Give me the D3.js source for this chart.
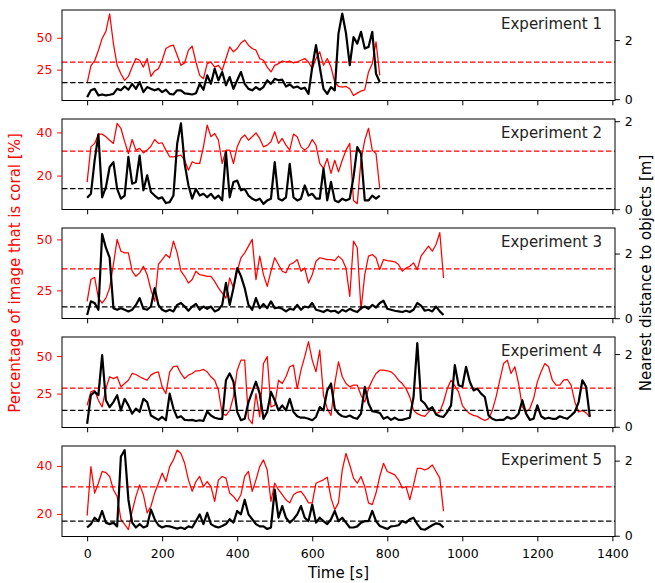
<!DOCTYPE html>
<html>
<head>
<meta charset="utf-8">
<script src="https://cdn.jsdelivr.net/npm/d3@7"></script>
<style>
  body { margin: 0; background: #fff; }
</style>
</head>
<body>
<div class="canvas"></div>
<script>
// sampling step of every series, seconds
const dt = 10;

const expNames = ['Experiment 1', 'Experiment 2', 'Experiment 3', 'Experiment 4', 'Experiment 5'];

// percentage of image that is coral [%]
const coral1 = [14.5,28,32,40,49.5,55,68.7,45.5,28.4,21.8,
  16.6,19.7,27,33.7,32.4,27,33.7,19.7,24,25.8,
  32.4,41.6,43.4,44.2,36.3,28.4,30.3,40.3,43.4,31,
  20.5,17.9,29.7,31,27,28.4,24.5,33.7,42.9,39,
  41.6,46,48.2,44.2,41.6,40.3,33.7,32.4,27,23.2,
  28.4,29.7,31.8,31,31.8,30.3,31,32.4,33.7,31,
  25.8,33.7,39,28.4,33.7,27,15.3,11.8,11.3,11.8,
  10,4.7,6.6,8.2,9.2,23.2,29.7,46.8,20.5];
const coral2 = [17,33.3,34.9,39.2,39.2,38,36.4,34.9,44.2,41.9,
  35.7,30.2,36.7,31.8,32.6,30.5,31.8,33.6,36.7,34.9,
  35.2,31.8,28.7,28.7,29,29.5,27.1,22.5,26.4,25.6,
  25.6,33.3,43.4,38,39.5,36.4,25.6,31.8,31.8,25.6,
  33.3,37.2,38.8,36.4,38,39.8,37.2,33.3,34.1,35.7,
  40.3,34.9,37.2,34.1,31.8,39.2,38,33.3,31.8,33.3,
  36.7,34.1,25.6,23.3,27.9,21,27.1,21.7,27.1,31.8,
  34.9,8.5,7,27.1,36.4,41.9,31.8,30.2,14];
const coral3 = [19.6,30.3,31.4,21.2,18.8,21.2,26.2,37.7,50,44.2,
  43.4,43.4,34.4,31.9,33.6,36.8,32.7,25.3,19.6,37.7,
  40.1,42.6,41,49.2,43.4,34.4,31.9,28.6,30.3,34.4,
  32.7,32.4,31.9,31.9,29.4,26.2,23.7,21.2,31.1,26.2,
  34.4,41,43.4,46.7,50,30.3,41.8,32.7,27,34.4,
  41,37.7,34.4,33.6,37.7,38.5,40.1,34.4,36,28.6,
  32.7,39.3,41,40.6,40.1,40.1,39.6,41.8,40.1,36,
  22,49.2,45.9,15.5,32.7,41.8,42.6,41,35.2,40.1,
  39.6,39.3,39,37.7,34.4,36,36.8,38.5,35.2,41.8,
  44.2,46.7,44.2,47.5,53.3,31.1];
const coral4 = [17.2,26.1,27.2,20.5,16.1,28.3,36.2,35,36.2,29.5,
  31.7,33.9,38.4,37.7,36.2,35,33.9,37.3,38.8,39.5,
  29.5,25,39.5,42.9,43.3,38.4,35,37.3,38.4,40.2,
  40.2,41.1,39.5,36.2,33.9,27.2,11.6,10.5,13.8,22.8,
  40.6,47.3,47.3,8.3,4.9,25,9.4,45,49.6,16.1,
  17.2,33.9,31.7,36.2,42.9,44,28.3,40.6,49.6,59.6,
  47.3,39.5,54,23.9,15,10.5,31.7,46.2,36.2,31.7,
  29.5,30.6,30.6,23.9,19.4,28.3,33.9,38.4,40.6,40.6,
  40.2,39.5,37.3,33.9,31.7,28.3,22.8,13.8,11.6,10.5,
  9.8,12.7,15.6,11.6,12.7,19.4,28.3,33.9,30.1,26.1,
  17.2,13.8,11.6,10.5,9.8,8.3,7.1,8.3,13.8,22.8,
  33.9,45,47.3,38.4,42.9,31.7,16.1,12.7,15,21.7,
  32.8,39.5,45,42.9,33.9,30.6,30.6,33.9,34.4,30.6,
  19.4,12.7,13.8,12.1,9.4];
const coral5 = [19.3,39.7,28.7,32.8,37.7,37.2,35.6,30.1,27.3,17.7,
  15.6,13.5,21.1,27.3,32.1,28,20.4,23.2,28.7,32.8,
  37,33.5,39.7,42.5,46.6,45.2,41.1,34.2,29.4,33.5,
  35.6,31.4,33.5,31.4,25.2,34.2,35.6,34.9,28.7,27.3,
  25.2,28,35.6,37.7,29.4,34.2,39.7,42.5,38.3,25.2,
  32.8,30.1,28,25.9,24.6,28,29,29.4,27.3,24.6,
  24.6,32.8,33.5,34.2,35.3,26.6,21.8,24.6,38.3,45.2,
  40.4,34.9,32.8,35.6,31.4,24.6,23.9,28.7,35.6,41.1,
  37.7,37,36.3,34.2,30.8,31.4,25.9,32.1,39,39,
  38.3,39,40.4,37.7,34.9,21.1];

// nearest distance to objects [m]
const dist1 = [0.07,0.30,0.35,0.13,0.16,0.13,0.15,0.18,0.35,0.30,
  0.43,0.32,0.52,0.35,0.58,0.24,0.41,0.35,0.30,0.35,
  0.24,0.32,0.18,0.16,0.30,0.30,0.20,0.18,0.16,0.20,
  0.52,0.32,0.81,0.52,1.03,0.64,0.92,0.47,0.75,0.35,
  0.64,0.92,0.52,0.35,0.30,0.41,0.32,0.41,0.64,0.52,
  0.69,0.64,0.66,0.43,0.50,0.39,0.43,0.35,0.39,0.18,
  1.09,1.83,1.09,0.35,0.18,0.41,0.30,2.23,2.9,2.23,
  1.15,2.1,1.88,2.28,1.72,1.77,2.28,0.86,0.58];
const dist2 = [0.26,0.35,1.11,1.7,0.27,0.50,0.96,1.07,0.46,0.24,
  0.31,1.19,0.58,0.62,1.22,0.43,0.77,0.39,0.31,0.24,
  0.27,0.14,0.16,0.31,1.49,1.95,1.03,0.54,0.24,0.46,
  0.31,0.35,0.27,0.35,0.24,0.31,0.20,1.30,0.27,0.62,
  0.65,0.43,0.46,0.31,0.24,0.20,0.24,0.12,0.20,0.24,
  1.07,0.24,0.20,0.27,1.03,0.27,0.20,0.24,0.54,0.31,
  0.35,0.24,0.24,0.92,0.20,0.62,0.20,0.16,0.24,0.20,
  0.24,0.73,1.41,1.26,0.20,0.20,0.31,0.24,0.31];
const dist3 = [0.10,0.52,0.47,0.26,2.6,2.18,1.87,0.31,0.26,0.31,
  0.26,0.21,0.26,0.41,0.62,0.29,0.26,0.36,0.93,0.41,
  0.26,0.21,0.26,0.21,0.41,0.47,0.36,0.23,0.36,0.44,
  0.26,0.36,0.29,0.36,0.21,0.26,0.41,1.09,0.41,0.93,
  1.55,1.30,0.93,0.41,0.26,0.62,0.31,0.44,0.31,0.52,
  0.31,0.33,0.29,0.21,0.29,0.26,0.41,0.26,0.36,0.33,
  0.47,0.26,0.23,0.19,0.26,0.21,0.23,0.16,0.26,0.21,
  0.29,0.23,0.19,0.31,0.36,0.29,0.41,0.33,0.47,0.54,
  0.29,0.26,0.23,0.21,0.19,0.23,0.19,0.26,0.47,0.39,
  0.23,0.26,0.21,0.36,0.21,0.10];
const dist4 = [0.08,0.87,0.96,0.87,1.97,0.73,0.54,0.68,0.87,0.45,
  0.77,0.59,0.36,0.50,0.41,0.77,0.68,0.31,0.25,0.19,
  0.27,0.18,0.91,0.50,0.25,0.29,0.19,0.18,0.19,0.16,
  0.18,0.16,0.42,0.31,0.25,0.22,0.22,1.28,1.47,1.24,
  0.41,0.18,0.22,0.68,0.96,1.24,0.91,0.22,0.41,0.96,
  0.73,0.45,0.59,0.45,0.77,0.41,0.29,0.25,0.25,0.22,
  0.18,0.27,0.54,0.45,1.00,1.19,0.50,0.36,0.29,0.27,
  0.31,0.25,0.22,0.36,1.10,0.64,0.43,0.41,0.38,0.22,
  0.27,0.19,0.25,0.19,0.19,0.22,0.25,0.82,2.3,0.73,
  0.64,0.47,0.54,0.34,0.29,0.27,0.41,0.59,1.7,1.14,
  1.10,1.65,1.24,1.00,1.05,0.91,0.82,0.31,0.22,0.18,
  0.19,0.19,0.27,0.22,0.25,0.36,0.73,0.36,0.19,0.22,
  0.59,0.29,0.22,0.25,0.22,0.22,0.29,0.25,0.22,0.31,
  0.41,0.68,1.28,1.10,0.27];
const dist5 = [0.22,0.31,0.48,0.39,0.66,0.35,0.31,0.35,0.25,2.11,
  2.28,0.96,0.35,0.22,0.31,0.22,0.26,0.70,0.44,0.28,
  0.22,0.26,0.25,0.22,0.19,0.22,0.18,0.25,0.22,0.39,
  0.57,0.31,0.61,0.31,0.25,0.22,0.26,0.31,0.44,0.35,
  0.66,0.57,0.96,0.57,0.44,0.31,0.25,0.25,0.18,0.22,
  1.23,0.48,0.79,0.48,0.35,0.44,0.57,0.79,0.48,0.39,
  0.83,0.35,0.48,0.39,0.31,0.44,0.66,0.39,0.48,0.35,
  0.22,0.22,0.25,0.35,0.39,0.39,0.66,0.39,0.26,0.22,
  0.18,0.25,0.26,0.28,0.39,0.35,0.44,0.48,0.31,0.18,
  0.16,0.22,0.28,0.33,0.31,0.22];

// mean values drawn as dashed lines
const coralMean = [31, 31.3, 35.5, 28.7, 31.3];
const distMean = [0.56, 0.47, 0.35, 0.45, 0.39];

// axis limits and tick labels
const coralLims = [[0.8, 71.8], [4.3, 46.2], [11.2, 55.6], [2.4, 62.7], [10.6, 48.3]];
const distLims = [[-0.044, 3.02], [-0.007, 2.05], [-0.01, 2.79], [-0.02, 2.47], [-0.02, 2.39]];
const coralTicks = [[25, 50], [20, 40], [25, 50], [25, 50], [20, 40]];
const distTicks = [0, 2];
const timeTicks = [0, 200, 400, 600, 800, 1000, 1200, 1400];

const coralSeries = [coral1, coral2, coral3, coral4, coral5];
const distSeries = [dist1, dist2, dist3, dist4, dist5];

const font = 'DejaVu Sans, sans-serif';

const svg = d3.select('.canvas')
    .append('svg')
    .attr('width', 655)
    .attr('height', 583)
    .style('display', 'block');

const left = 62, right = 615;
const panelTop = 10, panelStep = 109, panelH = 90.5;
const tickLen = 4.8;

const x = d3.scaleLinear().domain([-67, 1407]).range([left, right]);

expNames.forEach((name, i) => {
    const g = svg.append('g')
        .attr('transform', `translate(0, ${panelTop + i * panelStep})`);

    const yL = d3.scaleLinear().domain(coralLims[i]).range([panelH, 0]);
    const yR = d3.scaleLinear().domain(distLims[i]).range([panelH, 0]);

    const coralLine = d3.line().x((d, j) => x(j * dt)).y(d => yL(d));
    const distLine = d3.line().x((d, j) => x(j * dt)).y(d => yR(d));

    // red coral series + mean
    g.append('path')
        .attr('d', coralLine(coralSeries[i]))
        .attr('fill', 'none')
        .attr('stroke', '#ff0000')
        .attr('stroke-width', 1.25)
        .attr('stroke-linejoin', 'round');
    g.append('line')
        .attr('x1', left).attr('x2', right)
        .attr('y1', yL(coralMean[i])).attr('y2', yL(coralMean[i]))
        .attr('stroke', '#ff0000')
        .attr('stroke-width', 1.25)
        .attr('stroke-dasharray', '5.5,2.5');

    // black distance series + mean (twin axis, on top)
    g.append('path')
        .attr('d', distLine(distSeries[i]))
        .attr('fill', 'none')
        .attr('stroke', '#000')
        .attr('stroke-width', 2.2)
        .attr('stroke-linejoin', 'round');
    g.append('line')
        .attr('x1', left).attr('x2', right)
        .attr('y1', yR(distMean[i])).attr('y2', yR(distMean[i]))
        .attr('stroke', '#000')
        .attr('stroke-width', 1.25)
        .attr('stroke-dasharray', '5.5,2.5');

    // frame
    g.append('rect')
        .attr('x', left).attr('y', 0)
        .attr('width', right - left).attr('height', panelH)
        .attr('fill', 'none')
        .attr('stroke', '#000')
        .attr('stroke-width', 1);

    // left axis (red)
    const yAxisL = g.append('g')
        .attr('transform', `translate(${left}, 0)`)
        .call(d3.axisLeft(yL).tickValues(coralTicks[i]).tickSize(tickLen).tickPadding(4.8));
    yAxisL.select('.domain').remove();
    yAxisL.selectAll('line').attr('stroke', '#ff0000');
    yAxisL.selectAll('text')
        .attr('fill', '#ff0000')
        .attr('font-family', font)
        .attr('font-size', 12.5);

    // right axis (black)
    const yAxisR = g.append('g')
        .attr('transform', `translate(${right}, 0)`)
        .call(d3.axisRight(yR).tickValues(distTicks).tickSize(tickLen).tickPadding(5)
            .tickFormat(d3.format('d')));
    yAxisR.select('.domain').remove();
    yAxisR.selectAll('text')
        .attr('fill', '#000')
        .attr('font-family', font)
        .attr('font-size', 12.5);

    // time axis, labels only on the bottom panel
    const xAxis = g.append('g')
        .attr('transform', `translate(0, ${panelH})`)
        .call(d3.axisBottom(x).tickValues(timeTicks).tickSize(tickLen).tickPadding(8)
            .tickFormat(d => i === expNames.length - 1 ? d : ''));
    xAxis.select('.domain').remove();
    xAxis.selectAll('text')
        .attr('fill', '#000')
        .attr('font-family', font)
        .attr('font-size', 12.5);

    g.append('text')
        .attr('x', 602)
        .attr('y', 19)
        .attr('text-anchor', 'end')
        .attr('font-family', font)
        .attr('font-size', 15)
        .attr('fill', '#222')
        .text(name);
});

// axis titles
svg.append('text')
    .attr('x', (left + right) / 2)
    .attr('y', 578)
    .attr('text-anchor', 'middle')
    .attr('font-family', font)
    .attr('font-size', 15)
    .attr('fill', '#000')
    .text('Time [s]');

svg.append('text')
    .attr('transform', 'translate(20, 273) rotate(-90)')
    .attr('text-anchor', 'middle')
    .attr('font-family', font)
    .attr('font-size', 15)
    .attr('fill', '#ff0000')
    .text('Percentage of image that is coral [%]');

svg.append('text')
    .attr('transform', 'translate(651, 273) rotate(-90)')
    .attr('text-anchor', 'middle')
    .attr('font-family', font)
    .attr('font-size', 15)
    .attr('fill', '#000')
    .text('Nearest distance to objects [m]');
</script>
</body>
</html>
